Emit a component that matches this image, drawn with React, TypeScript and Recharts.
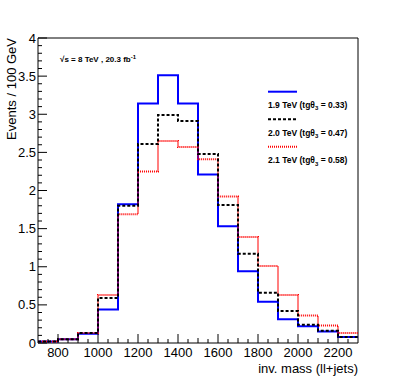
import React from "react";
import { ComposedChart, Line, XAxis, YAxis, ReferenceArea } from "recharts";

// bin low edges (GeV), last entry closes the final bin
const binEdges = [700, 800, 900, 1000, 1100, 1200, 1300, 1400, 1500, 1600, 1700, 1800, 1900, 2000, 2100, 2200, 2300];

// events / 100 GeV per bin
const tev19 = [0.02, 0.05, 0.12, 0.44, 1.82, 3.14, 3.51, 3.14, 2.21, 1.53, 0.94, 0.54, 0.31, 0.22, 0.15, 0.08];
const tev20 = [0.02, 0.05, 0.13, 0.59, 1.8, 2.61, 2.99, 2.91, 2.48, 1.81, 1.17, 0.66, 0.42, 0.24, 0.16, 0.08];
const tev21 = [0.02, 0.05, 0.13, 0.63, 1.69, 2.25, 2.65, 2.57, 2.41, 1.92, 1.39, 1.01, 0.63, 0.36, 0.23, 0.13];

const legendNames = ["1.9 TeV (tg", "2.0 TeV (tg", "2.1 TeV (tg"];
const legendTg = ["0.33", "0.47", "0.58"];

const xLabels = [800, 1000, 1200, 1400, 1600, 1800, 2000, 2200];
const yLabels = [0, 0.5, 1, 1.5, 2, 2.5, 3, 3.5, 4];

const FONT = "'Liberation Sans', Arial, Helvetica, sans-serif";

const data = binEdges.map((m, i) => {
  const k = Math.min(i, tev19.length - 1);
  return { m, a: tev19[k], b: tev20[k], c: tev21[k] };
});

const xTicks: number[] = [];
for (let v = 750; v <= 2250; v += 50) xTicks.push(v);
const yTicks: number[] = [];
for (let i = 0; i <= 40; i++) yTicks.push(i / 10);

function XTick(props: any) {
  const { x, y, payload } = props;
  const v = payload.value;
  const major = xLabels.includes(v);
  const len = major ? 9 : v % 100 === 0 ? 5 : 4;
  return (
    <g>
      <line x1={x} x2={x} y1={y} y2={y - len} stroke="#000" strokeWidth={1} />
      {major && (
        <text x={x} y={y + 14} textAnchor="middle" fontSize={13} fontFamily={FONT} fill="#000">
          {v}
        </text>
      )}
    </g>
  );
}

function YTick(props: any) {
  const { x, y, payload } = props;
  const v = payload.value;
  const major = Math.round(v * 10) % 5 === 0;
  const lbl = yLabels.find((l) => Math.abs(l - v) < 1e-6);
  return (
    <g>
      <line x1={x} x2={x + (major ? 9 : 4)} y1={y} y2={y} stroke="#000" strokeWidth={1} />
      {lbl !== undefined && (
        <text x={x - 2} y={y} dy="0.35em" textAnchor="end" fontSize={13} fontFamily={FONT} fill="#000">
          {lbl}
        </text>
      )}
    </g>
  );
}

const series = [
  { key: "a", color: "#0000ff", dash: undefined as string | undefined },
  { key: "c", color: "#ff0000", dash: "1 1" },
  { key: "b", color: "#000000", dash: "3 2" },
];
const legendStyle = [series[0], series[2], series[1]];

export default function App() {
  return (
    <div style={{ position: "absolute", left: 0, top: 0, width: 399, height: 383, background: "#fff" }}>
      <ComposedChart width={399} height={383} data={data} margin={{ top: 38, right: 41, bottom: 10, left: 0 }}>
        <XAxis
          type="number"
          dataKey="m"
          domain={[700, 2300]}
          ticks={xTicks}
          interval={0}
          tickSize={0}
          tickMargin={0}
          axisLine={false}
          tick={<XTick />}
          height={30}
        />
        <YAxis
          type="number"
          domain={[0, 4]}
          ticks={yTicks}
          interval={0}
          tickSize={0}
          tickMargin={0}
          axisLine={false}
          tick={<YTick />}
          width={38}
        />
        {series.map((s) => (
          <Line
            key={s.key}
            type="stepAfter"
            dataKey={s.key}
            stroke={s.color}
            strokeWidth={2}
            strokeDasharray={s.dash}
            dot={false}
            activeDot={false}
            isAnimationActive={false}
          />
        ))}
        <ReferenceArea x1={700} x2={2300} y1={0} y2={4} fill="none" stroke="#000" strokeWidth={1} />
      </ComposedChart>
      <svg width={399} height={383} style={{ position: "absolute", left: 0, top: 0, pointerEvents: "none" }}>
        <text x={15.5} y={38} transform="rotate(-90 15.5 38)" textAnchor="end" fontSize={13} fontFamily={FONT}>
          Events / 100 GeV
        </text>
        <text x={358} y={373} textAnchor="end" fontSize={13} fontFamily={FONT}>
          inv. mass (ll+jets)
        </text>
        <text x={60} y={61.5} fontSize={8} fontWeight="bold" fontFamily={FONT}>
          √s = 8 TeV , 20.3 fb
          <tspan dy={-3} fontSize={6}>-1</tspan>
        </text>
        {legendNames.map((n, i) => {
          const ly = 91.7 + i * 27.5;
          const ty = 107.7 + i * 27.8;
          const st = legendStyle[i];
          return (
            <g key={n}>
              <line x1={268} x2={297} y1={ly} y2={ly} stroke={st.color} strokeWidth={2} strokeDasharray={st.dash} />
              <text x={268} y={ty} fontSize={8.5} fontWeight="bold" fontFamily={FONT}>
                {n}θ
                <tspan dy={2.5} fontSize={6}>3</tspan>
                <tspan dy={-2.5}> = {legendTg[i]})</tspan>
              </text>
            </g>
          );
        })}
      </svg>
    </div>
  );
}
